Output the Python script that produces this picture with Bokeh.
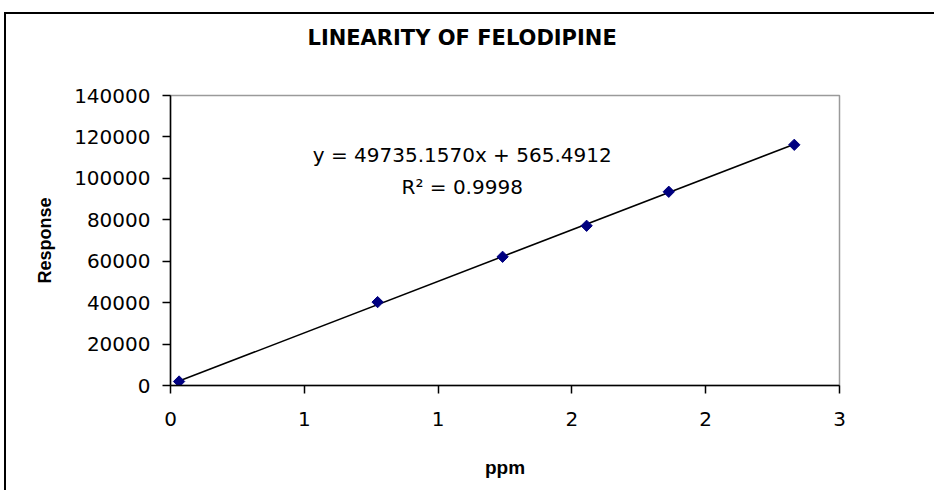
import numpy as np
from bokeh.plotting import figure
from bokeh.models import Label, FixedTicker, Range1d, Title
from bokeh.embed import file_html
from bokeh.resources import INLINE

# ---- data ----
conc_ppm = [0.032, 0.774, 1.241, 1.555, 1.862, 2.331]
response = [1930, 40260, 62130, 77100, 93520, 116200]
slope = 49735.1570
intercept = 565.4912
equation_text = "y = 49735.1570x + 565.4912"
r2_text = "R\u00b2 = 0.9998"
x_ticks = [0, 0.5, 1.0, 1.5, 2.0, 2.5]
x_tick_labels = ["0", "1", "1", "2", "2", "3"]
y_ticks = [0, 20000, 40000, 60000, 80000, 100000, 120000, 140000]
title_text = "LINEARITY OF FELODIPINE"
x_label = "ppm"
y_label = "Response"

p = figure(width=930, height=478, output_backend="svg", toolbar_location=None,
           x_range=Range1d(0, 2.5), y_range=Range1d(0, 140000),
           min_border_left=164, min_border_right=97,
           min_border_top=81, min_border_bottom=107)
p.styles = {"border-top": "2px solid #000000", "border-left": "2px solid #000000",
            "margin-left": "4px", "margin-top": "12px"}

p.background_fill_color = "white"
p.border_fill_color = "white"
p.outline_line_color = "#9a9a9a"
p.outline_line_width = 1.5
p.xgrid.grid_line_color = None
p.ygrid.grid_line_color = None

# blank spacer between the title and the plot frame
p.add_layout(Title(text=" ", text_font_size="1px", standoff=38), "above")

p.title.text = title_text
p.title.text_font = "DejaVu Sans"
p.title.text_font_style = "bold"
p.title.text_font_size = "21px"
p.title.text_color = "black"
p.title.align = "left"
p.title.offset = 137
p.title.standoff = 10

for ax in (p.xaxis[0], p.yaxis[0]):
    ax.axis_line_color = "black"
    ax.axis_line_width = 1.5
    ax.major_tick_line_color = "black"
    ax.major_tick_line_width = 1.5
    ax.major_tick_out = 8
    ax.major_tick_in = 0
    ax.minor_tick_line_color = None
    ax.major_label_text_font = "DejaVu Sans"
    ax.major_label_text_font_size = "20px"
    ax.major_label_text_color = "black"
    ax.axis_label_text_font = "Liberation Sans"
    ax.axis_label_text_font_style = "bold"
    ax.axis_label_text_color = "black"

p.xaxis.ticker = FixedTicker(ticks=x_ticks)
p.xaxis.major_label_overrides = {t: l for t, l in zip(x_ticks, x_tick_labels)}
p.yaxis.ticker = FixedTicker(ticks=y_ticks)
p.yaxis.formatter.use_scientific = False
p.xaxis.major_label_standoff = 18
p.yaxis.major_label_standoff = 12

p.xaxis.axis_label = x_label
p.xaxis.axis_label_text_font_size = "19px"
p.xaxis.axis_label_standoff = 28
p.yaxis.axis_label = y_label
p.yaxis.axis_label_text_font_size = "18px"
p.yaxis.axis_label_standoff = 16

# trendline over the data range
x0, x1 = min(conc_ppm), max(conc_ppm)
p.line([x0, x1], [slope * x0 + intercept, slope * x1 + intercept],
       line_color="black", line_width=1.5)

p.scatter(conc_ppm, response, marker="square", angle=np.pi / 4, size=8,
          fill_color="#000080", line_color="#000080")

p.add_layout(Label(x=1.09, y=111500, text=equation_text, text_align="center",
                   text_baseline="middle", text_font="DejaVu Sans",
                   text_font_size="20px", text_color="black"))
p.add_layout(Label(x=1.09, y=96000, text=r2_text, text_align="center",
                   text_baseline="middle", text_font="DejaVu Sans",
                   text_font_size="20px", text_color="black"))

open("out.html", "w").write(file_html(p, INLINE))
